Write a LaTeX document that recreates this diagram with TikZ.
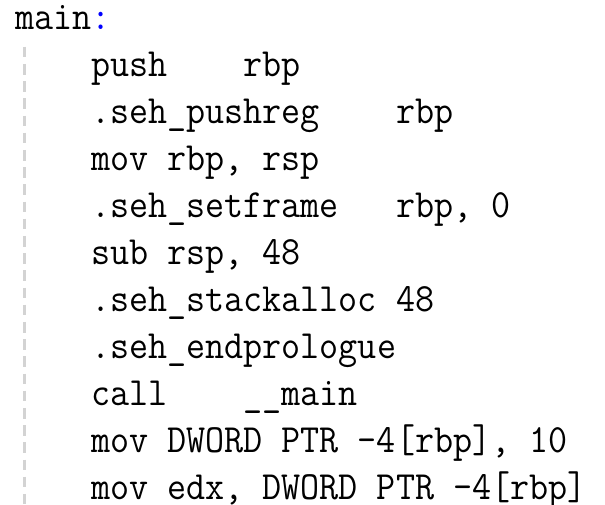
\documentclass[tikz,border=0pt]{standalone}
\usepackage{fontspec}
\usepackage{xcolor}
\usetikzlibrary{positioning}
\newfontfamily\codefont[FakeStretch=0.925]{Latin Modern Mono}
\definecolor{labelblue}{HTML}{0000FF}
\definecolor{guidegray}{HTML}{D3D3D3}

\begin{document}
\begin{tikzpicture}[
    codeline/.style={inner sep=0pt, text height=28pt, text depth=8pt,
        font=\codefont\fontsize{40pt}{46.6pt}\selectfont},
    guideline/.style={draw=guidegray, line width=3pt, dash pattern=on 10.7pt off 6.5pt}
]
        \useasboundingbox (0,0) rectangle (605pt,-504pt);
        \node[codeline, anchor=base west] (l0) at (15pt,-29.3pt) {main\textcolor{labelblue}{:}};
        \node[codeline, below right=10.6pt and 76pt of l0.south west] (l1) {push~~~~rbp};
        \node[codeline, below right=10.6pt and 0pt of l1.south west] (l2) {.seh\_pushreg~~~~rbp};
        \node[codeline, below right=10.6pt and 0pt of l2.south west] (l3) {mov rbp, rsp};
        \node[codeline, below right=10.6pt and 0pt of l3.south west] (l4) {.seh\_setframe~~~rbp, 0};
        \node[codeline, below right=10.6pt and 0pt of l4.south west] (l5) {sub rsp, 48};
        \node[codeline, below right=10.6pt and 0pt of l5.south west] (l6) {.seh\_stackalloc 48};
        \node[codeline, below right=10.6pt and 0pt of l6.south west] (l7) {.seh\_endprologue};
        \node[codeline, below right=10.6pt and 0pt of l7.south west] (l8) {call~~~~\_\_main};
        \node[codeline, below right=10.6pt and 0pt of l8.south west] (l9) {mov DWORD PTR -4[rbp], 10};
        \node[codeline, below right=10.6pt and 0pt of l9.south west] (l10) {mov edx, DWORD PTR -4[rbp]};

        % indent guide
        \coordinate (guidetop) at (24.3pt,-46.7pt);
        \coordinate (guidebot) at (24.3pt,-504pt);
        \draw[guideline] (guidetop) -- (guidebot);
\end{tikzpicture}
\end{document}
